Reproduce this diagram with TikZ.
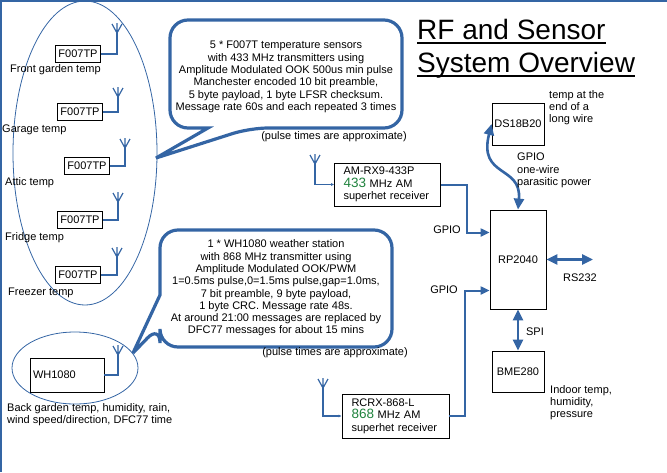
\documentclass[tikz,border=0pt]{standalone}
\usepackage{fontspec}
\setmainfont{Liberation Sans}
\usepackage{xcolor}
\usepackage{tikz}
\usetikzlibrary{arrows.meta}
\definecolor{lineblue}{RGB}{52,101,164}
\definecolor{rfgreen}{RGB}{30,130,60}

\begin{document}
\begin{tikzpicture}[
  x=1pt, y=-1pt,
  font=\fontsize{11}{12.3}\selectfont,
  box/.style={draw, line width=0.8pt, inner sep=3pt, minimum height=17pt},
  chip/.style={draw, line width=0.8pt, align=center},
  rxbox/.style={draw, line width=0.8pt, align=left, text width=88pt,
                inner xsep=9pt, inner ysep=3pt},
  lbl/.style={inner sep=0pt, align=left},
  callout/.style={draw=lineblue, line width=3.2pt, miter limit=6},
  wire/.style={draw=lineblue, line width=1.2pt},
  gpio/.style={lineblue, line width=2pt, >={Triangle[length=9pt,width=8pt]}, ->},
  bus/.style={lineblue, line width=2.6pt, >={Triangle[length=11pt,width=10pt]}, <->},
  antenna/.pic={\draw[wire] (0,0) -- (0,-10) (-5,-9) -- (0,0) -- (5,-9);},
]
\useasboundingbox (0,0) rectangle (667,472);

% ---- Page frame ----
\draw[lineblue, line width=1.5pt] (0,1) -- (667,1);
\draw[lineblue, line width=1.5pt] (1,0) -- (1,472);

% ---- Title ----
\node[inner sep=0pt, anchor=base west, font=\fontsize{28}{33}\selectfont] (t1) at (417,39) {RF and Sensor};
\node[inner sep=0pt, anchor=base west, font=\fontsize{28}{33}\selectfont] (t2) at (417,72) {System Overview};
\draw[line width=1.8pt] ([yshift=-4pt]t1.base west) -- ([yshift=-4pt]t1.base east);
\draw[line width=1.8pt] ([yshift=-4pt]t2.base west) -- ([yshift=-4pt]t2.base east);

% ---- F007TP sensors ----
\draw[lineblue, line width=0.8pt] (85,153) ellipse [x radius=72, y radius=152];
\foreach \i/\cx/\cy/\ax/\ay/\sname/\lx/\ly in {
    1/78/54/117/33/Front garden temp/10/70,
    2/80/112/118/97/Garage temp/2/130,
    3/87/166/125/148/Attic temp/5/183,
    4/80/220/118/202/Fridge temp/5/238,
    5/78/275/117/257/Freezer temp/8/293}
{
  \node[box] (s\i) at (\cx,\cy) {F007TP};
  \coordinate (a\i) at (\ax,\ay);
  \draw[wire] (s\i.east) -| (a\i);
  \pic at (a\i) {antenna};
  \node[lbl, anchor=west] (l\i) at (\lx,\ly) {\sname};
}

% ---- Callout for 433 MHz ----
\draw[callout, rounded corners=18pt] (286,20) -- (402,20) -- (402,128) -- (250,128)
  [sharp corners] -- (156,158) -- (208,128) -- (190,128)
  [rounded corners=18pt] -- (170,128) -- (170,20) -- cycle;
\node[align=center] (c433) at (286,77)
  {5 * F007T temperature sensors\\with 433 MHz transmitters using\\
   Amplitude Modulated OOK 500us min pulse\\Manchester encoded 10 bit preamble,\\
   5 byte payload, 1 byte LFSR checksum.\\Message rate 60s and each repeated 3 times};
\node[inner sep=0pt] (n433) at (334,137) {(pulse times are approximate)};

% ---- WH1080 weather station ----
\draw[lineblue, line width=0.8pt] (75,368) ellipse [x radius=63, y radius=36];
\node[draw, line width=0.8pt, minimum width=74pt, minimum height=34pt,
      text width=68pt, inner xsep=2pt, align=left] (wh) at (67,375) {WH1080};
\coordinate (awh) at (118,355);
\draw[wire] (wh.east) -| (awh);
\pic at (awh) {antenna};
\node[lbl, anchor=north west] (lwh) at (7,403)
  {Back garden temp, humidity, rain,\\wind speed/direction, DFC77 time};

% ---- Callout for 868 MHz ----
\draw[callout, rounded corners=18pt] (276,230) -- (392,230) -- (392,347) -- (160,347) -- (160,325)
  [sharp corners] -- (133,353) -- (160,295) -- (160,275)
  [rounded corners=18pt] -- (160,230) -- cycle;
\node[align=center] (c868) at (276,288)
  {1 * WH1080 weather station\\with 868 MHz transmitter using\\Amplitude Modulated OOK/PWM\\
   1=0.5ms pulse,0=1.5ms pulse,gap=1.0ms,\\7 bit preamble, 9 byte payload,\\
   1 byte CRC. Message rate 48s.\\At around 21:00 messages are replaced by\\
   DFC77 messages for about 15 mins};
\node[inner sep=0pt] (n868) at (335,353) {(pulse times are approximate)};

% ---- Receivers ----
\node[rxbox, minimum width=105pt, minimum height=43pt] (rx433) at (387.5,184.5)
  {AM-RX9-433P\\{\color{rfgreen}\fontsize{13.5}{14}\selectfont 433} MHz AM\\superhet receiver};
\coordinate (ar433) at (315,164);
\pic at (ar433) {antenna};
\draw[wire, -{Latex[length=3pt,width=3pt]}] (ar433) |- (rx433.west);

\node[rxbox, minimum width=107pt, minimum height=44pt] (rx868) at (395.5,416)
  {RCRX-868-L\\{\color{rfgreen}\fontsize{13.5}{14}\selectfont 868} MHz AM\\superhet receiver};
\coordinate (ar868) at (323,388);
\pic at (ar868) {antenna};
\draw[wire, -{Latex[length=3pt,width=3pt]}] (ar868) |- (rx868.west);

% ---- RP2040 and peripherals ----
\node[chip, minimum width=56pt, minimum height=99pt] (rp) at (518,259.5) {RP2040};
\node[chip, minimum width=52pt, minimum height=42pt, inner sep=1pt] (ds) at (518,124) {DS18B20};
\node[chip, minimum width=52pt, minimum height=41pt, inner sep=1pt] (bme) at (518,371.5) {BME280};

\draw[gpio] (rx433.east) -| ([xshift=-23pt,yshift=27pt]rp.west) -- ([yshift=27pt]rp.west);
\draw[gpio] (rx868.east) -| ([xshift=-25pt,yshift=-31pt]rp.west) -- ([yshift=-31pt]rp.west);
\node[inner sep=0pt] (g433) at (447,230) {GPIO};
\node[inner sep=0pt] (g868) at (444,290) {GPIO};

\draw[bus] (ds.west) .. controls (478,178) and (522,165) .. (rp.north);
\node[lbl, anchor=north west] (lds) at (549,90) {temp at the\\end of a\\long wire};
\node[lbl, anchor=north west] (lgp) at (517,153) {GPIO\\one-wire\\parasitic power};

\coordinate (rs) at (593,259.5);
\draw[bus] (rp.east) -- (rs);
\node[inner sep=0pt] (lrs) at (580,278) {RS232};

\draw[bus] (rp.south) -- (bme.north);
\node[inner sep=0pt] (lspi) at (535,332) {SPI};
\node[lbl, anchor=north west] (lbme) at (550,385) {Indoor temp,\\humidity,\\pressure};
\end{tikzpicture}
\end{document}
